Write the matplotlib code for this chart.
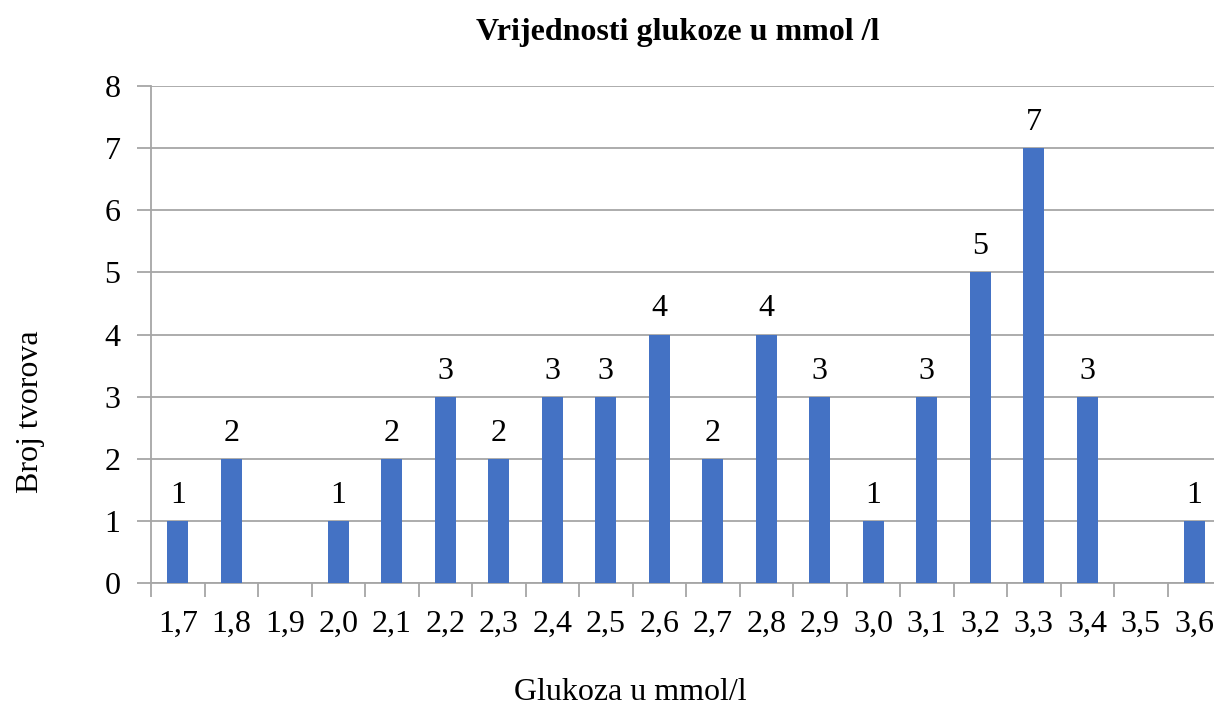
import matplotlib.pyplot as plt
import numpy as np

# data
categories = ['1,7', '1,8', '1,9', '2,0', '2,1', '2,2', '2,3', '2,4', '2,5', '2,6',
              '2,7', '2,8', '2,9', '3,0', '3,1', '3,2', '3,3', '3,4', '3,5', '3,6']
counts = [1, 2, 0, 1, 2, 3, 2, 3, 3, 4, 2, 4, 3, 1, 3, 5, 7, 3, 0, 1]
yticks = list(range(0, 9))

W, H = 1214, 706
FS = 23
plt.rcParams['font.family'] = ['Liberation Serif', 'DejaVu Serif']

fig = plt.figure(figsize=(W / 100, H / 100), dpi=100)
# axes in pixel coords: left 151, right 1221 (clipped by figure), top 86, bottom 583
ax = fig.add_axes([151 / W, 1 - 583 / H, 1070 / W, (583 - 86) / H])

x = np.arange(len(categories))
ax.bar(x, counts, width=0.40, color='#4472C4', zorder=3)
for xi, c in zip(x, counts):
    if c > 0:
        ax.annotate(str(c), (xi, c), xytext=(0, 13), textcoords='offset points',
                    ha='center', va='baseline', fontsize=FS)

ax.set_xlim(-0.5, len(categories) - 0.5)
ax.set_ylim(0, 8)
ax.set_yticks(yticks)
ax.set_yticklabels([str(t) for t in yticks])
ax.yaxis.grid(True, color='#a6a6a6', linewidth=1.3, zorder=0)
ax.tick_params(axis='y', length=10, width=1.3, color='#a6a6a6', labelsize=FS, pad=12)

# category labels at centres, tick marks between categories
ax.set_xticks(x)
ax.set_xticklabels(categories, fontsize=FS)
ax.tick_params(axis='x', which='major', length=0, pad=19)
ax.set_xticks(np.arange(-0.5, len(categories), 1), minor=True)
ax.tick_params(axis='x', which='minor', length=10, width=1.3, color='#a6a6a6')

for s in ['top', 'right']:
    ax.spines[s].set_visible(False)
for s in ['left', 'bottom']:
    ax.spines[s].set_color('#a6a6a6')
    ax.spines[s].set_linewidth(1.3)

fig.text(678 / W, 1 - 40 / H, 'Vrijednosti glukoze u mmol /l', ha='center', va='baseline',
         fontsize=FS, fontweight='bold')
fig.text(630 / W, 1 - 700 / H, 'Glukoza u mmol/l', ha='center', va='baseline', fontsize=FS)
fig.text(31 / W, 1 - 412 / H, 'Broj tvorova', ha='center', va='center', rotation=90, fontsize=FS)

fig.savefig('out.png', dpi=100)
